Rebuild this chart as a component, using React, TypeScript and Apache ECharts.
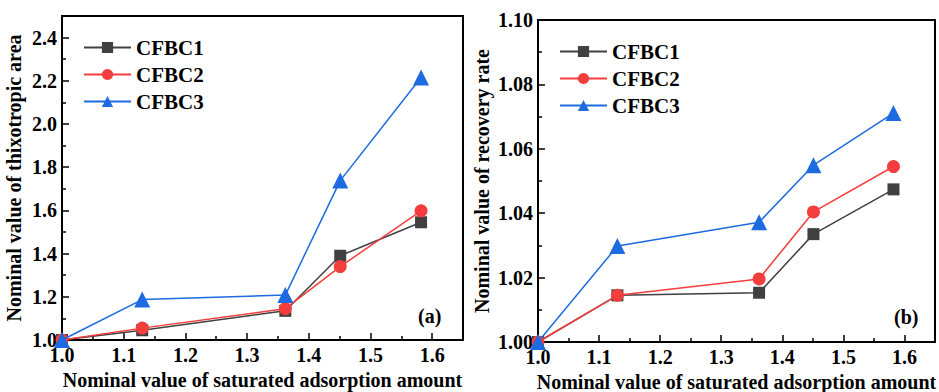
import React, { useEffect, useRef } from "react";
import * as echarts from "echarts";

// Nominal saturated adsorption amount (shared x values)
const adsorption = [1.0, 1.13, 1.362, 1.451, 1.582];

// (a) nominal thixotropic area
const areaCFBC1 = [1.0, 1.045, 1.135, 1.39, 1.545];
const areaCFBC2 = [1.0, 1.055, 1.145, 1.34, 1.598];
const areaCFBC3 = [1.0, 1.187, 1.208, 1.738, 2.215];

// (b) nominal recovery rate
const recCFBC1 = [1.0, 1.0145, 1.0153, 1.0335, 1.0474];
const recCFBC2 = [1.0, 1.0145, 1.0196, 1.0404, 1.0545];
const recCFBC3 = [1.0, 1.0298, 1.0372, 1.0549, 1.0711];

const names = ["CFBC1", "CFBC2", "CFBC3"];
const colors = ["#404040", "#f43d3d", "#1c6be0"];
const symbols = ["rect", "circle", "triangle"];
const symbolSizes = [12, 13, 16];

const FONT = "'Liberation Serif', 'Times New Roman', 'DejaVu Serif', serif";

const pair = (ys: number[]) => adsorption.map((x, i) => [x, ys[i]]);

export default function App() {
  const ref = useRef<HTMLDivElement>(null);

  useEffect(() => {
    document.body.style.margin = "0";
    const chart = echarts.init(ref.current!, null, { renderer: "svg" });

    const labelStyle = {
      margin: 5,
      fontFamily: FONT,
      fontWeight: "bold",
      fontSize: 20,
      color: "#000",
    };

    const axisCommon = {
      axisLine: { show: true, onZero: false, lineStyle: { color: "#000", width: 2 } },
      axisTick: { show: true, inside: true, length: 7, lineStyle: { color: "#000", width: 1.5 } },
      minorTick: { show: true, splitNumber: 2, length: 4, lineStyle: { color: "#000", width: 1.5 } },
      splitLine: { show: false },
      nameTextStyle: { fontFamily: FONT, fontWeight: "bold", fontSize: 20, color: "#000" },
    };

    const xAxis = (gridIndex: number) => ({
      ...axisCommon,
      gridIndex,
      type: "value",
      min: 1.0,
      max: 1.65,
      interval: 0.1,
      name: "Nominal value of saturated adsorption amount",
      nameLocation: "middle",
      nameGap: 30,
      axisLabel: { ...labelStyle, showMaxLabel: false, formatter: (v: number) => v.toFixed(1) },
    });

    const legend = (left: number, top: number) => ({
      left,
      top,
      padding: 0,
      orient: "vertical",
      itemWidth: 47,
      itemHeight: 14,
      itemGap: 6,
      data: names,
      textStyle: { fontFamily: FONT, fontWeight: "bold", fontSize: 21, color: "#000", lineHeight: 20 },
    });

    const seriesFor = (gridIndex: number, sets: number[][]) =>
      sets.map((ys, i) => ({
        name: names[i],
        type: "line",
        xAxisIndex: gridIndex,
        yAxisIndex: gridIndex,
        data: pair(ys),
        symbol: symbols[i],
        symbolSize: symbolSizes[i],
        lineStyle: { color: colors[i], width: 1.5 },
        itemStyle: { color: colors[i] },
        z: 3 + i,
      }));

    chart.setOption({
      animation: false,
      backgroundColor: "#fff",
      legend: [legend(83, 37), legend(559, 41)],
      grid: [
        { left: 62, top: 16, width: 401, height: 324, outerBoundsMode: "none", show: true, borderColor: "#000", borderWidth: 2 },
        { left: 538, top: 20, width: 397, height: 322, outerBoundsMode: "none", show: true, borderColor: "#000", borderWidth: 2 },
      ],
      xAxis: [xAxis(0), xAxis(1)],
      yAxis: [
        {
          ...axisCommon,
          gridIndex: 0,
          type: "value",
          min: 1.0,
          max: 2.5,
          interval: 0.2,
          name: "Nominal value of thixotropic area",
          nameLocation: "middle",
          nameGap: 38,
          axisLabel: { ...labelStyle, showMaxLabel: false, formatter: (v: number) => v.toFixed(1) },
        },
        {
          ...axisCommon,
          gridIndex: 1,
          type: "value",
          min: 1.0,
          max: 1.1,
          interval: 0.02,
          name: "Nominal value of recovery rate",
          nameLocation: "middle",
          nameGap: 46,
          axisLabel: { ...labelStyle, formatter: (v: number) => v.toFixed(2) },
        },
      ],
      series: [
        ...seriesFor(0, [areaCFBC1, areaCFBC2, areaCFBC3]),
        ...seriesFor(1, [recCFBC1, recCFBC2, recCFBC3]),
      ],
      graphic: [
        {
          type: "text",
          left: 418,
          top: 306,
          style: { text: "(a)", font: `bold 20px ${FONT}`, fill: "#000" },
        },
        {
          type: "text",
          left: 894,
          top: 307,
          style: { text: "(b)", font: `bold 20px ${FONT}`, fill: "#000" },
        },
      ],
    });

    return () => chart.dispose();
  }, []);

  return <div ref={ref} style={{ width: 939, height: 392 }} />;
}
